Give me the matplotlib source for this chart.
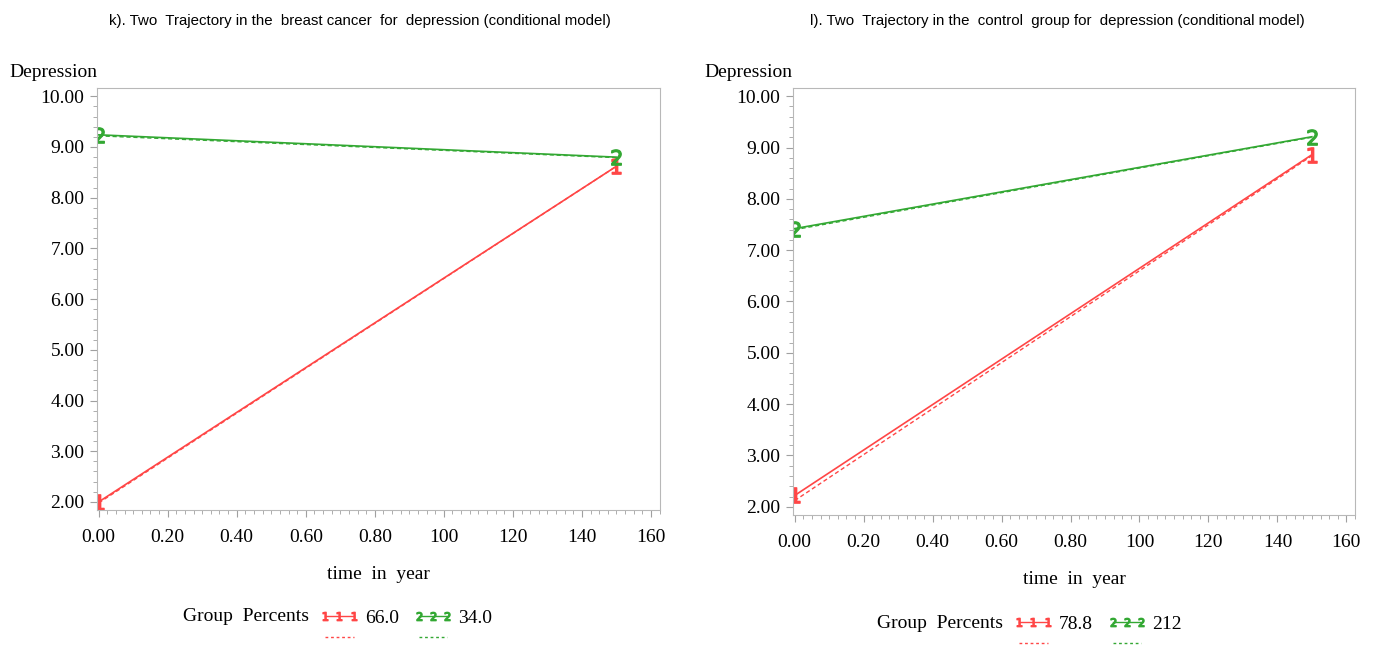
import matplotlib
import matplotlib.pyplot as plt
import numpy as np
from matplotlib.lines import Line2D
from matplotlib.ticker import MultipleLocator

matplotlib.use("Agg")

# data
time = [0.0, 1.5]
xtick_pos = [0.0, 0.2, 0.4, 0.6, 0.8, 1.0, 1.2, 1.4, 1.6]
xtick_labels = ["0.00", "0.20", "0.40", "0.60", "0.80", "100", "120", "140", "160"]
ytick_pos = [2, 3, 4, 5, 6, 7, 8, 9, 10]
ytick_labels = ["2.00", "3.00", "4.00", "5.00", "6.00", "7.00", "8.00", "9.00", "10.00"]

k_obs_1 = [2.00, 8.62]
k_pred_1 = [1.98, 8.62]
k_obs_2 = [9.24, 8.80]
k_pred_2 = [9.22, 8.79]
k_pct = ["66.0", "34.0"]

l_obs_1 = [2.22, 8.86]
l_pred_1 = [2.12, 8.84]
l_obs_2 = [7.42, 9.21]
l_pred_2 = [7.40, 9.20]
l_pct = ["78.8", "212"]

titles = [
    "k). Two  Trajectory in the  breast cancer  for  depression (conditional model)",
    "l). Two  Trajectory in the  control  group for  depression (conditional model)",
]

RED = "#ff4646"
GREEN = "#33a833"
SERIF = "Liberation Serif"

fig = plt.figure(figsize=(13.79, 6.46), dpi=100)


def panel(rect, obs1, pred1, obs2, pred2, pct, title, title_x, ylab_x,
          leg_x, leg_y, hand_x):
    ax = fig.add_axes(rect)
    ax.plot(time, pred1, color=RED, lw=1, ls=(0, (3, 2)))
    ax.plot(time, pred2, color=GREEN, lw=1, ls=(0, (3, 2)))
    ax.plot(time, obs1, color=RED, lw=1.2, marker="$1$", ms=11)
    ax.plot(time, obs2, color=GREEN, lw=1.2, marker="$2$", ms=11)
    ax.set_xlim(-0.005, 1.625)
    ax.set_ylim(1.84, 10.16)
    ax.set_xticks(xtick_pos, xtick_labels)
    ax.set_yticks(ytick_pos, ytick_labels)
    ax.xaxis.set_minor_locator(MultipleLocator(0.025))
    ax.yaxis.set_minor_locator(MultipleLocator(0.2))
    for s in ax.spines.values():
        s.set_color("#b8b8b8")
    ax.tick_params(which="both", color="#a0a0a0", direction="out")
    ax.tick_params(which="major", length=5, labelsize=14)
    ax.tick_params(axis="x", which="major", pad=9)
    ax.tick_params(axis="y", which="major", pad=4)
    ax.tick_params(which="minor", length=3)
    for t in ax.get_xticklabels() + ax.get_yticklabels():
        t.set_fontfamily(SERIF)
    ax.set_xlabel("time  in  year", fontsize=14, family=SERIF, labelpad=14)
    fig.text(title_x, 0.968, title, ha="center", va="center", fontsize=10.8,
             family="Liberation Sans")
    fig.text(ylab_x, 0.888, "Depression", ha="left", va="center", fontsize=14,
             family=SERIF)
    # legend
    fig.text(leg_x, leg_y, "Group  Percents", ha="left", va="center",
             fontsize=14, family=SERIF)
    handles = [
        Line2D([], [], color=RED, lw=1, marker="$1$", ms=6),
        Line2D([], [], color=RED, lw=1, ls=(0, (2, 2))),
        Line2D([], [], color=GREEN, lw=1, marker="$2$", ms=6),
        Line2D([], [], color=GREEN, lw=1, ls=(0, (2, 2))),
    ]
    fig.legend(handles, [pct[0], " ", pct[1], " "], ncol=2, numpoints=3,
               loc="upper left", bbox_to_anchor=(hand_x, leg_y + 0.039),
               frameon=False, handlelength=2.05, handletextpad=0.3,
               columnspacing=0.7, labelspacing=0.15,
               prop={"family": SERIF, "size": 14})
    return ax


panel([0.0703, 0.2105, 0.408, 0.653], k_obs_1, k_pred_1, k_obs_2, k_pred_2,
      k_pct, titles[0], 0.261, 0.007, 0.1327, 0.045, 0.219)
panel([0.575, 0.2028, 0.4076, 0.661], l_obs_1, l_pred_1, l_obs_2, l_pred_2,
      l_pct, titles[1], 0.767, 0.511, 0.636, 0.0356, 0.7223)

plt.savefig("out.png", dpi=100)
plt.close("all")
